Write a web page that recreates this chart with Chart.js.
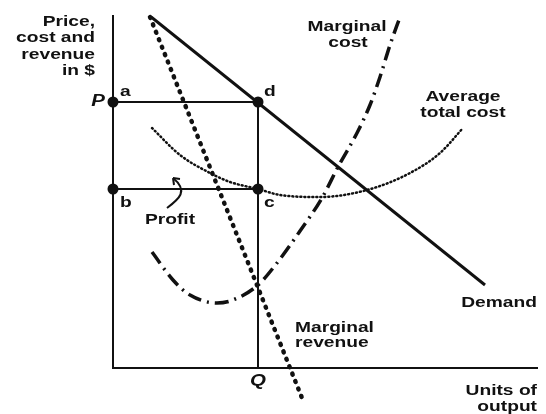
<!DOCTYPE html>
<html>
<head>
<meta charset="utf-8">
<script src="https://cdn.jsdelivr.net/npm/chart.js@4"></script>
<style>
  html, body { margin: 0; padding: 0; background: #fff; }
  #wrap { width: 546px; height: 414px; }
</style>
</head>
<body>
<div id="wrap"><canvas id="costChart"></canvas></div>
<script>
// values (x = units of output, y = price / cost in $)
var demandPts = [{x: 3.7, y: 35.2}, {x: 37.2, y: 8.3}];
var marginalRevenuePts = [{x: 3.7, y: 35.1}, {x: 18.9, y: -3.0}];
var avgTotalCostPts = [
  {x: 3.9, y: 24.0}, {x: 6.7, y: 21.3}, {x: 9.7, y: 19.5}, {x: 11.7, y: 18.6},
  {x: 14.5, y: 17.9}, {x: 16.7, y: 17.3}, {x: 20.7, y: 17.1}, {x: 25.4, y: 17.8},
  {x: 29.7, y: 19.5}, {x: 32.7, y: 21.5}, {x: 35.0, y: 24.0}
];
var marginalCostPts = [
  {x: 3.9, y: 11.6}, {x: 6.0, y: 8.8}, {x: 7.7, y: 7.3}, {x: 10.4, y: 6.5},
  {x: 12.0, y: 6.8}, {x: 14.5, y: 8.3}, {x: 16.4, y: 10.5}, {x: 18.7, y: 13.7},
  {x: 20.9, y: 17.0}, {x: 22.5, y: 20.1}, {x: 24.4, y: 23.5}, {x: 25.7, y: 26.3},
  {x: 26.7, y: 29.1}, {x: 27.7, y: 32.3}, {x: 28.7, y: 35.1}
];
var priceP = 26.6;     // P  (a - d)
var costC = 17.9;      // average total cost at Q (b - c)
var quantityQ = 14.5;  // Q
var markedPts = [
  {x: 0, y: priceP}, {x: quantityQ, y: priceP},
  {x: 0, y: costC}, {x: quantityQ, y: costC}
];

// text labels, placed in data units
var labels = [
  {t: 'Price,', x: -1.8, y: 34.6, align: 'right'},
  {t: 'cost and', x: -1.8, y: 33.0, align: 'right'},
  {t: 'revenue', x: -1.8, y: 31.3, align: 'right'},
  {t: 'in $', x: -1.8, y: 29.7, align: 'right'},
  {t: 'P', x: -0.8, y: priceP, align: 'right', italic: true},
  {t: 'a', x: 0.7, y: 27.6, align: 'left'},
  {t: 'd', x: 15.1, y: 27.6, align: 'left'},
  {t: 'b', x: 0.7, y: 16.5, align: 'left'},
  {t: 'c', x: 15.1, y: 16.5, align: 'left'},
  {t: 'Profit', x: 5.7, y: 14.8, align: 'center'},
  {t: 'Marginal', x: 23.4, y: 34.1, align: 'center'},
  {t: 'cost', x: 23.5, y: 32.5, align: 'center'},
  {t: 'Average', x: 35.0, y: 27.1, align: 'center'},
  {t: 'total cost', x: 35.0, y: 25.5, align: 'center'},
  {t: 'Demand', x: 42.4, y: 6.5, align: 'right'},
  {t: 'Marginal', x: 18.2, y: 4.0, align: 'left'},
  {t: 'revenue', x: 18.2, y: 2.5, align: 'left'},
  {t: 'Q', x: quantityQ, y: -1.4, align: 'center', italic: true},
  {t: 'Units of', x: 42.4, y: -2.3, align: 'right'},
  {t: 'output', x: 42.4, y: -3.9, align: 'right'}
];

var textPlugin = {
  id: 'textPlugin',
  afterDatasetsDraw: function(chart) {
    var ctx = chart.ctx;
    var xs = chart.scales.x, ys = chart.scales.y;
    var stretch = 1.28;
    ctx.save();
    ctx.fillStyle = '#111';
    ctx.textBaseline = 'middle';
    labels.forEach(function(l) {
      var px = xs.getPixelForValue(l.x), py = ys.getPixelForValue(l.y);
      ctx.save();
      ctx.font = (l.italic ? 'italic bold 16px' : 'bold 15px') + ' "Liberation Sans", Arial, sans-serif';
      ctx.translate(px, py);
      ctx.scale(stretch, 1);
      ctx.textAlign = l.align;
      ctx.fillText(l.t, 0, 0);
      ctx.restore();
    });
    // little curved arrow pointing into the profit box
    var ax = function(v) { return xs.getPixelForValue(v); };
    var ay = function(v) { return ys.getPixelForValue(v); };
    ctx.strokeStyle = '#111';
    ctx.lineWidth = 2;
    ctx.beginPath();
    ctx.moveTo(ax(5.4), ay(16.0));
    ctx.bezierCurveTo(ax(6.6), ay(16.9), ax(7.6), ay(17.7), ax(6.0), ay(19.0));
    ctx.stroke();
    ctx.beginPath();
    ctx.moveTo(ax(6.0), ay(19.0));
    ctx.lineTo(ax(6.0) + 1, ay(19.0) + 7);
    ctx.moveTo(ax(6.0), ay(19.0));
    ctx.lineTo(ax(6.0) + 7, ay(19.0) + 1);
    ctx.stroke();
    ctx.restore();
  }
};

var ctx = document.getElementById('costChart').getContext('2d');
var costChart = new Chart(ctx, {
  type: 'scatter',
  data: {
    datasets: [
      { // P - d
        data: [{x: 0, y: priceP}, {x: quantityQ, y: priceP}],
        showLine: true, borderColor: '#111', borderWidth: 2, pointRadius: 0
      },
      { // b - c
        data: [{x: 0, y: costC}, {x: quantityQ, y: costC}],
        showLine: true, borderColor: '#111', borderWidth: 2, pointRadius: 0
      },
      { // d - Q
        data: [{x: quantityQ, y: priceP}, {x: quantityQ, y: 0}],
        showLine: true, borderColor: '#111', borderWidth: 2, pointRadius: 0
      },
      { // demand
        data: demandPts,
        showLine: true, borderColor: '#111', borderWidth: 3, pointRadius: 0
      },
      { // marginal revenue
        data: marginalRevenuePts, clip: false,
        showLine: true, borderColor: '#111', borderWidth: 4.5, borderDash: [1, 7],
        borderCapStyle: 'round', pointRadius: 0
      },
      { // average total cost
        data: avgTotalCostPts,
        showLine: true, borderColor: '#111', borderWidth: 2.5, borderDash: [1, 3],
        borderCapStyle: 'round', tension: 0.4, cubicInterpolationMode: 'monotone', pointRadius: 0
      },
      { // marginal cost
        data: marginalCostPts,
        showLine: true, borderColor: '#111', borderWidth: 3.5, borderDash: [14, 6, 2, 6],
        tension: 0.4, cubicInterpolationMode: 'monotone', pointRadius: 0
      },
      { // a, d, b, c
        data: markedPts, showLine: false, clip: false,
        pointRadius: 5.5, pointBackgroundColor: '#111', pointBorderWidth: 0
      }
    ]
  },
  options: {
    responsive: true,
    maintainAspectRatio: false,
    animation: false,
    layout: { padding: { left: 105, top: 16, right: 9, bottom: 38 } },
    plugins: { legend: { display: false }, tooltip: { enabled: false } },
    scales: {
      x: {
        type: 'linear', min: 0, max: 42.4,
        grid: { display: false }, ticks: { display: false },
        border: { display: true, color: '#111', width: 2 }
      },
      y: {
        type: 'linear', min: 0, max: 35.2,
        grid: { display: false }, ticks: { display: false },
        border: { display: true, color: '#111', width: 2 }
      }
    }
  },
  plugins: [textPlugin]
});
</script>
</body>
</html>
